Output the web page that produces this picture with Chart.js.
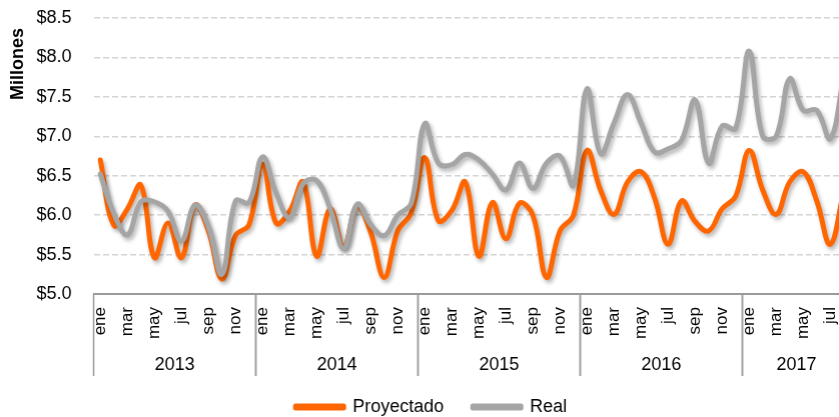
<!DOCTYPE html>
<html>
<head>
<meta charset="utf-8">
<script src="https://cdn.jsdelivr.net/npm/chart.js@4.4.1/dist/chart.umd.min.js"></script>
<style>
  html, body { margin: 0; padding: 0; overflow: hidden; background: #ffffff; }
  #wrap { position: absolute; left: 0; top: 0; width: 861.5px; height: 426px; }
</style>
</head>
<body>
<div id="wrap"><canvas id="c"></canvas></div>
<script>
// ---- data ----
const monthNames = ['ene','feb','mar','abr','may','jun','jul','ago','sep','oct','nov','dic'];
const years = ['2013','2014','2015','2016','2017'];
const yTicks = [5.0, 5.5, 6.0, 6.5, 7.0, 7.5, 8.0, 8.5];

const proyectado = [
  6.70, 5.87, 6.08, 6.38, 5.46, 5.90, 5.46, 6.13, 5.80, 5.19, 5.74, 5.88,
  6.65, 5.90, 6.05, 6.42, 5.48, 6.08, 5.60, 6.12, 5.78, 5.21, 5.80, 6.03,
  6.73, 5.93, 6.06, 6.42, 5.48, 6.16, 5.70, 6.15, 6.00, 5.21, 5.80, 6.00,
  6.82, 6.32, 6.01, 6.42, 6.55, 6.22, 5.63, 6.18, 5.92, 5.80, 6.08, 6.24,
  6.82, 6.32, 6.01, 6.42, 6.55, 6.18, 5.63, 6.30
];
const real = [
  6.52, 6.02, 5.75, 6.17, 6.17, 6.05, 5.67, 6.13, 5.85, 5.25, 6.18, 6.16,
  6.74, 6.28, 5.97, 6.40, 6.44, 6.08, 5.58, 6.14, 5.88, 5.74, 6.00, 6.15,
  7.16, 6.66, 6.64, 6.77, 6.70, 6.52, 6.32, 6.66, 6.34, 6.66, 6.75, 6.38,
  7.60, 6.78, 7.17, 7.53, 7.17, 6.80, 6.84, 6.95, 7.46, 6.66, 7.13, 7.10,
  8.08, 7.00, 7.00, 7.73, 7.33, 7.33, 6.97, 7.75
];

// categories: month name for each point
const labels = [];
for (let i = 0; i < proyectado.length; i++) {
  labels.push(monthNames[i % 12]);
}

const FONT = "'Liberation Sans', Arial, sans-serif";

// year group row + separators
const yearGroups = {
  id: 'yearGroups',
  afterDraw(chart) {
    const xs = chart.scales.x;
    const ctx = chart.ctx;
    const n = labels.length;
    const half = (xs.getPixelForValue(1) - xs.getPixelForValue(0)) / 2;
    ctx.save();
    ctx.strokeStyle = '#9a9a9a';
    ctx.lineWidth = 1.5;
    ctx.fillStyle = '#000';
    ctx.font = '18px ' + FONT;
    ctx.textAlign = 'center';
    ctx.textBaseline = 'middle';
    years.forEach((yr, k) => {
      const s = k * 12;
      if (s >= n) return;
      const e = Math.min(s + 11, n - 1);
      const left = xs.getPixelForValue(s) - half;
      const right = xs.getPixelForValue(e) + half;
      [left, right].forEach(x => {
        ctx.beginPath();
        ctx.moveTo(x, xs.top);
        ctx.lineTo(x, xs.top + 82);
        ctx.stroke();
      });
      ctx.fillText(yr, (left + right) / 2, xs.top + 71);
    });
    ctx.restore();
  }
};

// y axis caption
const yCaption = {
  id: 'yCaption',
  afterDraw(chart) {
    const ys = chart.scales.y;
    const ctx = chart.ctx;
    ctx.save();
    ctx.translate(18.5, ys.top + 46);
    ctx.rotate(-Math.PI / 2);
    ctx.font = 'bold 18px ' + FONT;
    ctx.fillStyle = '#000';
    ctx.textAlign = 'center';
    ctx.textBaseline = 'middle';
    ctx.fillText('Millones', 0, 0);
    ctx.restore();
  }
};

// soft drop shadow on the lines
const lineShadow = {
  id: 'lineShadow',
  beforeDatasetDraw(chart) {
    const ctx = chart.ctx;
    ctx.save();
    ctx.shadowColor = 'rgba(0,0,0,0.30)';
    ctx.shadowBlur = 4;
    ctx.shadowOffsetX = 2;
    ctx.shadowOffsetY = 3;
  },
  afterDatasetDraw(chart) {
    chart.ctx.restore();
  }
};

new Chart(document.getElementById('c'), {
  type: 'line',
  data: {
    labels: labels,
    datasets: [
      {
        label: 'Proyectado',
        data: proyectado,
        borderColor: '#FF6600',
        backgroundColor: '#FF6600',
        borderWidth: 5,
        borderJoinStyle: 'round',
        borderCapStyle: 'round',
        tension: 0.4,
        pointRadius: 0,
        pointHoverRadius: 0,
        fill: false,
        order: 1
      },
      {
        label: 'Real',
        data: real,
        borderColor: '#A5A5A5',
        backgroundColor: '#A5A5A5',
        borderWidth: 5,
        borderJoinStyle: 'round',
        borderCapStyle: 'round',
        tension: 0.4,
        pointRadius: 0,
        pointHoverRadius: 0,
        fill: false,
        order: 0
      }
    ]
  },
  options: {
    responsive: true,
    maintainAspectRatio: false,
    animation: false,
    layout: { padding: { top: 18, right: 0, left: 0, bottom: 0 } },
    plugins: {
      tooltip: { enabled: false },
      legend: {
        position: 'bottom',
        labels: {
          font: { family: FONT, size: 18 },
          color: '#000',
          boxWidth: 48,
          boxHeight: 2,
          padding: 29,
          sort: (a, b) => a.datasetIndex - b.datasetIndex
        }
      }
    },
    scales: {
      x: {
        type: 'category',
        offset: true,
        grid: { display: false, drawTicks: false },
        border: { display: true, color: '#9a9a9a', width: 2 },
        ticks: {
          autoSkip: false,
          maxRotation: 90,
          minRotation: 90,
          padding: 13,
          color: '#000',
          font: { family: FONT, size: 17 },
          callback: function (v, i) { return i % 2 === 0 ? labels[i] : ''; }
        },
        afterFit: (scale) => {
          scale.height = 75;
          scale.paddingLeft = 0;
          scale.paddingRight = 12;
        }
      },
      y: {
        min: yTicks[0],
        max: yTicks[yTicks.length - 1],
        afterBuildTicks: (scale) => { scale.ticks = yTicks.map(v => ({ value: v })); },
        grid: {
          color: '#d4d4d4',
          lineWidth: 1.5,
          drawTicks: false
        },
        border: { display: false, dash: [6, 3] },
        ticks: {
          padding: 22,
          color: '#000',
          font: { family: FONT, size: 18 },
          callback: (v) => '$' + Number(v).toFixed(1)
        },
        afterFit: (scale) => {
          scale.width = 93.5;
          scale.paddingTop = 0;
          scale.paddingBottom = 0;
        }
      }
    }
  },
  plugins: [lineShadow, yearGroups, yCaption]
});
</script>
</body>
</html>
